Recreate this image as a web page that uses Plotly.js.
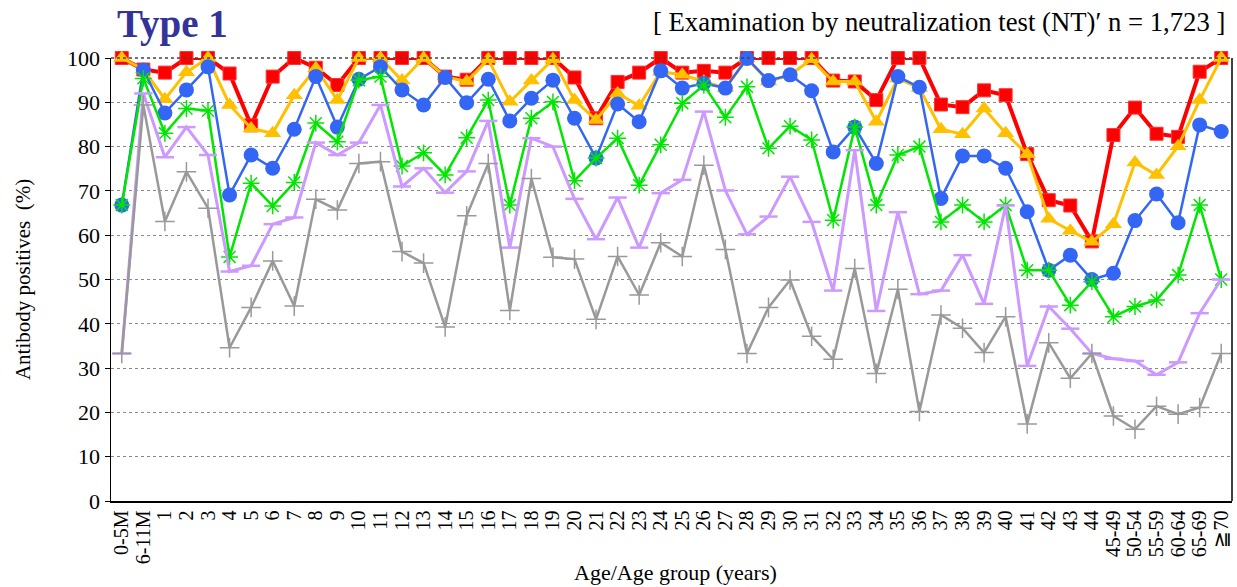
<!DOCTYPE html>
<html>
<head>
<meta charset="utf-8">
<script src="https://cdn.plot.ly/plotly-3.0.1.min.js"></script>
<style>html,body{margin:0;padding:0;background:#fff;}#chart{width:1237px;height:587px;}</style>
</head>
<body>
<div id="chart"></div>
<script>
const categories = ["0-5M","6-11M","1","2","3","4","5","6","7","8","9","10","11","12","13","14","15","16","17","18","19","20","21","22","23","24","25","26","27","28","29","30","31","32","33","34","35","36","37","38","39","40","41","42","43","44","45-49","50-54","55-59","60-64","65-69","≧70"];

const seriesRed = [100,97.4,96.7,100,100,96.5,84.8,95.8,100,97.8,93.9,100,100,100,100,95.8,95.1,100,100,100,100,95.6,86.4,94.6,96.7,100,96.7,97.1,96.7,100,100,100,100,94.9,94.7,90.5,100,100,89.5,88.9,92.7,91.6,78.3,67.9,66.7,58.6,82.6,88.8,82.9,82.2,96.9,100];

const seriesYellow = [100,97.4,90.7,96.8,100,89.4,84.1,83.0,91.6,97.7,90.5,100,100,94.9,100,95.8,94.7,99.7,90.1,94.9,99.7,90.5,86.0,92.0,89.2,96.9,96.2,94.7,93.2,99.9,94.7,96.2,99.7,94.7,94.7,85.6,95.4,93.2,83.9,82.8,88.6,83.0,78.3,63.7,61.0,58.5,62.5,76.4,73.6,80.1,90.5,100];

const seriesBlue = [66.8,97.3,87.6,92.8,98.0,69.1,78.1,75.1,83.9,95.8,84.4,95.2,98.0,92.8,89.4,95.6,89.9,95.2,85.8,90.9,95.0,86.4,77.4,89.6,85.6,97.1,93.2,94.3,93.2,99.9,94.9,96.2,92.6,78.8,84.4,76.2,95.8,93.4,68.3,77.9,77.9,75.1,65.3,52.1,55.5,50.0,51.4,63.3,69.3,62.8,84.9,83.4];

const seriesGreen = [66.8,95.4,83.0,88.6,88.1,55.1,71.7,66.6,71.9,85.3,81.1,95.0,95.8,75.6,78.6,73.6,82.0,90.5,66.8,86.4,90.1,72.3,77.4,81.9,71.3,80.4,89.8,93.9,86.6,93.5,79.6,84.6,81.5,63.4,84.4,66.8,78.1,80.0,63.0,66.8,63.0,66.8,52.1,52.1,44.2,49.5,41.6,43.9,45.4,51.0,66.8,50.0];

const seriesPurple = [33.3,92.0,77.6,84.4,78.1,51.8,53.1,62.5,64.0,80.9,78.1,80.9,89.4,71.0,75.1,69.6,74.4,85.8,57.2,81.9,80.0,68.2,59.1,68.5,57.2,69.5,72.5,87.9,70.1,60.2,64.2,73.2,63.0,47.5,79.2,42.9,65.2,46.7,47.5,55.5,44.5,66.7,30.5,43.9,38.9,33.3,32.1,31.6,28.5,31.3,42.4,50.0];

const seriesGray = [33.3,89.4,63.1,74.3,66.1,34.6,43.7,54.2,44.0,68.1,65.7,76.2,76.6,56.3,53.7,39.3,64.4,76.2,43.0,72.8,55.0,54.6,41.0,55.2,46.5,58.3,55.2,75.8,56.8,33.3,43.7,49.9,37.2,32.0,52.5,28.8,47.8,20.2,42.0,39.0,33.5,41.6,17.4,35.7,27.7,33.3,19.2,16.2,21.4,19.6,21.1,33.3];

const yTickVals = [0,10,20,30,40,50,60,70,80,90,100];

const FONT = "Liberation Serif, Times New Roman, serif";

function mk(y, color, lw, sym, size, mlw, mcolor, fill) {
  return {
    type: "scatter", mode: "lines+markers", x: categories, y: y,
    cliponaxis: false,
    line: {color: color, width: lw},
    marker: {symbol: sym, size: size, color: fill || color, line: {color: mcolor || color, width: mlw}},
    hoverinfo: "x+y", showlegend: false
  };
}

const data = [
  mk(seriesRed, "#FF0000", 4, "square", 13, 1, "#FF3333"),
  mk(seriesYellow, "#FFC000", 3, "triangle-up", 15, 0, "#FFC000"),
  mk(seriesBlue, "#3366F5", 2.5, "circle", 15, 0, "#3366F5"),
  mk(seriesGreen, "#00E600", 2.5, "asterisk-open", 14, 1.5, "#00E600"),
  mk(seriesPurple, "#CC99FF", 3, "line-ew-open", 13, 2.5, "#CC99FF"),
  mk(seriesGray, "#999999", 2.5, "cross-thin-open", 14, 1.5, "#999999")
];

const layout = {
  width: 1237, height: 587,
  margin: {l: 111, r: 5, t: 58, b: 86},
  paper_bgcolor: "#fff", plot_bgcolor: "#fff",
  font: {family: FONT, color: "#000", size: 20},
  title: {text: "<b>Type 1</b>", font: {family: FONT, size: 39, color: "#333399"},
          x: 117/1237, xanchor: "left", xref: "container", y: 1 - 23/587, yanchor: "middle", yref: "container"},
  xaxis: {
    type: "category", range: [-0.5, 51.5], tickangle: -90,
    tickmode: "array", tickvals: categories, ticktext: categories,
    tickfont: {family: FONT, size: 20, color: "#000"},
    showgrid: false, zeroline: false, showline: true, linecolor: "#000", linewidth: 1.5,
    ticks: "", fixedrange: true
  },
  yaxis: {
    range: [0, 100], tickvals: yTickVals, ticktext: yTickVals.map(String),
    tickfont: {family: FONT, size: 22, color: "#000"},
    showgrid: true, gridcolor: "#888", griddash: "dot", gridwidth: 1,
    zeroline: false, showline: true, linecolor: "#000", linewidth: 1.5,
    ticks: "outside", ticklen: 5, tickcolor: "#000",
    title: {text: "Antibody positives  (%)", font: {family: FONT, size: 21}, standoff: 30},
    fixedrange: true
  },
  shapes: [
    {type: "line", xref: "paper", yref: "paper", x0: 1, x1: 1, y0: 0, y1: 1, line: {color: "#000", width: 1.5}},
    {type: "line", xref: "paper", yref: "paper", x0: 0, x1: 1, y0: 1, y1: 1, line: {color: "#444", width: 1.5, dash: "dot"}}
  ],
  annotations: [
    {text: "Age/Age group (years)", xref: "paper", yref: "paper", x: (675-111)/1121, y: -(572-501)/443,
     xanchor: "center", yanchor: "middle", showarrow: false, font: {family: FONT, size: 22, color: "#000"}},
    {text: "[ Examination by neutralization test (NT)\u2032 n = 1,723 ]", xref: "paper", yref: "paper",
     x: (1227-111)/1121, y: (501-22)/443, xanchor: "right", yanchor: "middle", showarrow: false,
     font: {family: FONT, size: 26.7, color: "#000"}}
  ],
  showlegend: false
};

Plotly.newPlot("chart", data, layout, {displayModeBar: false, staticPlot: true});
</script>
</body>
</html>
